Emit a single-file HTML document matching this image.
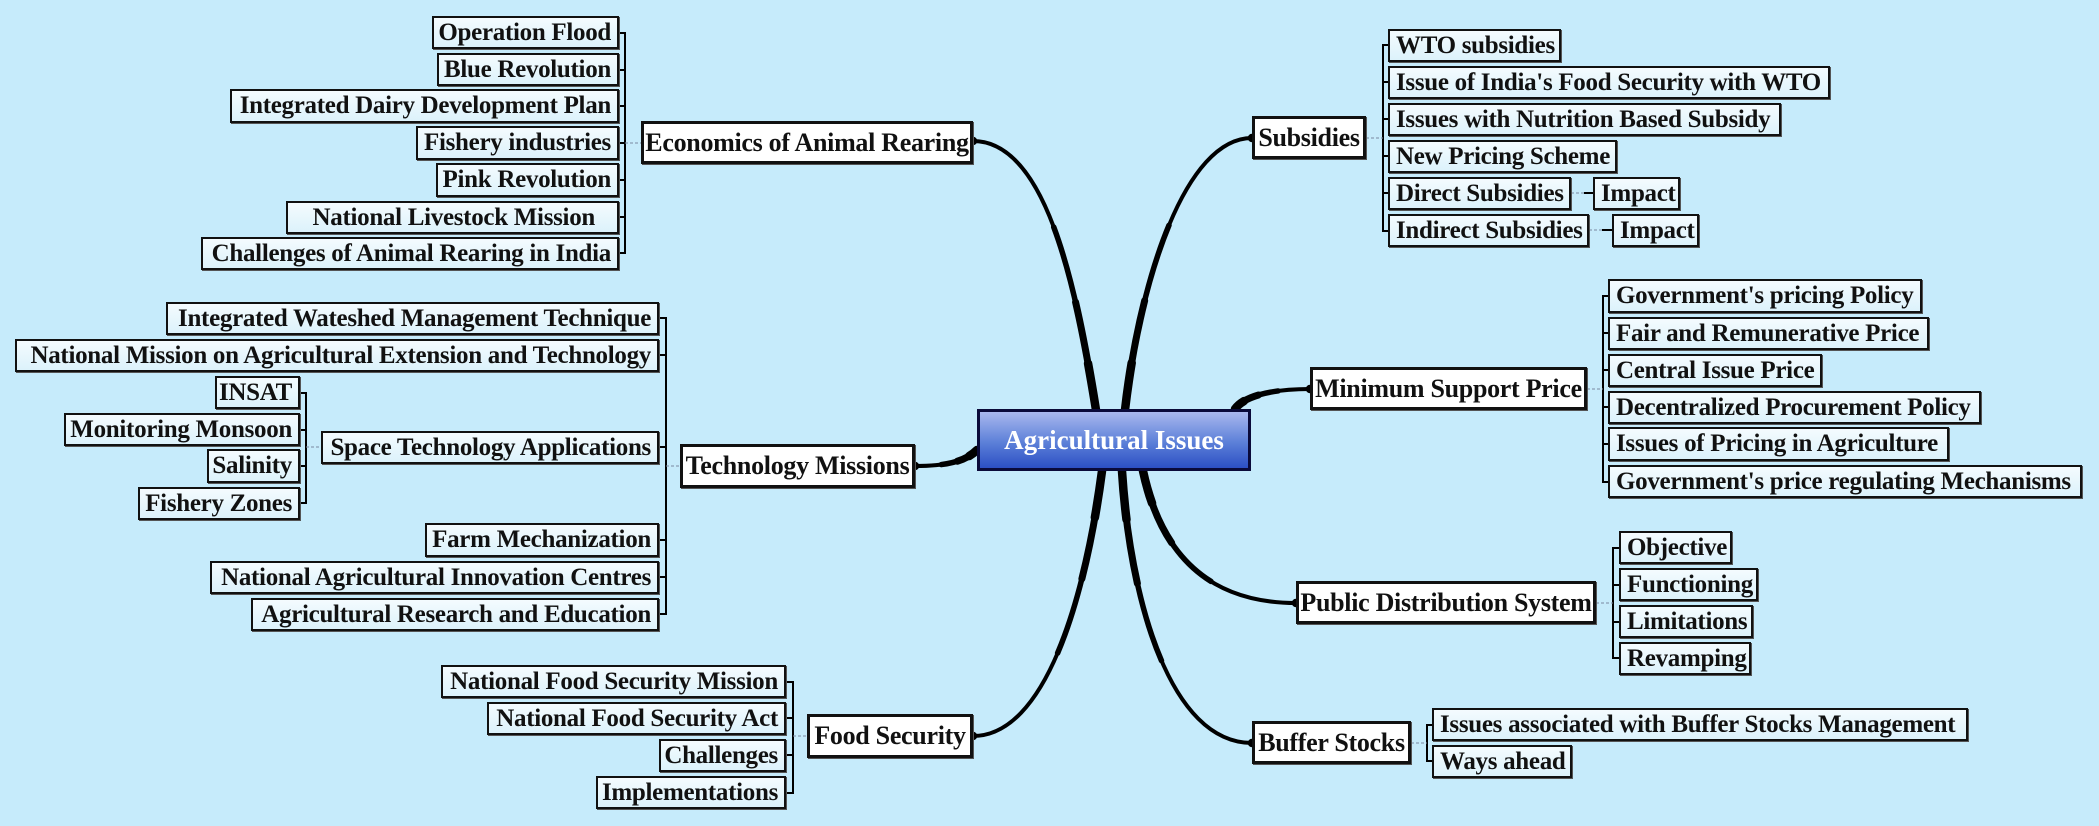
<!DOCTYPE html>
<html><head><meta charset="utf-8"><style>
body{margin:0;width:2099px;height:826px;background:#c6ebfb;position:relative;overflow:hidden;font-family:"Liberation Serif",serif;}
.b{position:absolute;box-sizing:border-box;border:2.5px solid #111;background:linear-gradient(#f4fbfe,#dcf2fb);font-weight:bold;font-size:25px;color:#111;display:flex;align-items:center;white-space:nowrap;box-shadow:1px 1px 0 #555;letter-spacing:-0.3px;}
.l{justify-content:flex-end;padding-right:6px;}
.r{justify-content:flex-start;padding-left:6px;}
.m{background:#fff;border:3px solid #111;font-size:26px;justify-content:center;}
.c{position:absolute;left:977px;top:409px;width:274px;height:62px;box-sizing:border-box;border:3px solid #0a0a3a;background:linear-gradient(#a9b8ee,#5b7fd8 55%,#2c4fc4);color:#fff;font-weight:bold;font-size:27px;display:flex;align-items:center;justify-content:center;}
svg{position:absolute;left:0;top:0}
</style></head><body>
<svg width="2099" height="826" fill="none" stroke="#000">
<defs>
<path id="p1" d="M973,141 C1045,141 1075,280 1096,410"/>
<path id="p2" d="M1252,138 C1185,138 1140,280 1125,410"/>
<path id="p3" d="M1310,389 C1275,389 1245,395 1235,409"/>
<path id="p4" d="M1296,603 C1205,603 1160,550 1143,471"/>
<path id="p5" d="M1252,743 C1170,743 1130,600 1122,471"/>
<path id="p6" d="M973,736 C1045,736 1085,600 1102,471"/>
<path id="p7" d="M915,466 C945,466 965,462 977,450"/>
</defs>
<g stroke-linecap="round">
<g stroke-width="4"><use href="#p1"/><use href="#p2"/><use href="#p3"/><use href="#p4"/><use href="#p5"/><use href="#p6"/><use href="#p7"/></g>
<g stroke-width="5.5" stroke-dasharray="0 40 60"><path pathLength="100" d="M973,141 C1045,141 1075,280 1096,410"/><path pathLength="100" d="M1252,138 C1185,138 1140,280 1125,410"/><path pathLength="100" d="M1310,389 C1275,389 1245,395 1235,409"/><path pathLength="100" d="M1296,603 C1205,603 1160,550 1143,471"/><path pathLength="100" d="M1252,743 C1170,743 1130,600 1122,471"/><path pathLength="100" d="M973,736 C1045,736 1085,600 1102,471"/><path pathLength="100" d="M915,466 C945,466 965,462 977,450"/></g>
<g stroke-width="7" stroke-dasharray="0 65 35"><path pathLength="100" d="M973,141 C1045,141 1075,280 1096,410"/><path pathLength="100" d="M1252,138 C1185,138 1140,280 1125,410"/><path pathLength="100" d="M1310,389 C1275,389 1245,395 1235,409"/><path pathLength="100" d="M1296,603 C1205,603 1160,550 1143,471"/><path pathLength="100" d="M1252,743 C1170,743 1130,600 1122,471"/><path pathLength="100" d="M973,736 C1045,736 1085,600 1102,471"/><path pathLength="100" d="M915,466 C945,466 965,462 977,450"/></g>
<g stroke-width="8.5" stroke-dasharray="0 85 15"><path pathLength="100" d="M973,141 C1045,141 1075,280 1096,410"/><path pathLength="100" d="M1252,138 C1185,138 1140,280 1125,410"/><path pathLength="100" d="M1310,389 C1275,389 1245,395 1235,409"/><path pathLength="100" d="M1296,603 C1205,603 1160,550 1143,471"/><path pathLength="100" d="M1252,743 C1170,743 1130,600 1122,471"/><path pathLength="100" d="M973,736 C1045,736 1085,600 1102,471"/><path pathLength="100" d="M915,466 C945,466 965,462 977,450"/></g>
</g>
<g stroke-width="2">
<path d="M619,33 H625 V253 H619"/><path d="M619,70H625M619,106H625M619,143H625M619,180H625M619,217H625"/>
<path d="M659,318 H666 V614 H659"/><path d="M659,355H666M659,447H666M659,540H666M659,577H666"/>
<path d="M300,393 H306 V503 H300"/><path d="M300,430H306M300,466H306"/>
<path d="M786,682 H793 V793 H786"/><path d="M786,718H793M786,755H793"/>
<path d="M1388,45 H1383 V231 H1388"/><path d="M1383,82H1388M1383,119H1388M1383,156H1388M1383,193H1388"/>
<path d="M1608,296 H1603 V482 H1608"/><path d="M1603,333H1608M1603,370H1608M1603,407H1608M1603,444H1608"/>
<path d="M1619,548 H1613 V658 H1619"/><path d="M1613,585H1619M1613,622H1619"/>
<path d="M1432,725 H1427 V761 H1432"/>
<path d="M1584,193H1593M1602,230H1612"/>
</g>
<g stroke-width="1" stroke="#7a8aa0" stroke-dasharray="3,2">
<path d="M625,143H641M666,466H680M306,447H321M793,736H807M1366,138H1383M1587,389H1603M1596,603H1613M1411,743H1427M1571,193H1584M1589,230H1602"/>
</g>
</svg>
<div class="c">Agricultural Issues</div>

<div class="b m" style="left:641px;top:121px;width:332px;height:43px">Economics of Animal Rearing</div>
<div class="b l" style="left:432px;top:16px;width:187px;height:33px">Operation Flood</div>
<div class="b l" style="left:437px;top:53px;width:182px;height:33px">Blue Revolution</div>
<div class="b l" style="left:230px;top:89px;width:389px;height:34px">Integrated Dairy Development Plan</div>
<div class="b l" style="left:416px;top:126px;width:203px;height:34px">Fishery industries</div>
<div class="b l" style="left:436px;top:163px;width:183px;height:34px">Pink Revolution</div>
<div class="b l" style="left:286px;top:201px;width:333px;height:33px;padding-right:22px">National Livestock Mission</div>
<div class="b l" style="left:201px;top:237px;width:418px;height:33px">Challenges of Animal Rearing in India</div>

<div class="b m" style="left:680px;top:444px;width:235px;height:44px">Technology Missions</div>
<div class="b l" style="left:166px;top:302px;width:493px;height:33px">Integrated Wateshed Management Technique</div>
<div class="b l" style="left:15px;top:339px;width:644px;height:33px">National Mission on Agricultural Extension and Technology</div>
<div class="b l" style="left:321px;top:431px;width:338px;height:33px">Space Technology Applications</div>
<div class="b l" style="left:215px;top:376px;width:85px;height:33px">INSAT</div>
<div class="b l" style="left:64px;top:413px;width:236px;height:33px">Monitoring Monsoon</div>
<div class="b l" style="left:207px;top:449px;width:93px;height:34px">Salinity</div>
<div class="b l" style="left:138px;top:487px;width:162px;height:33px">Fishery Zones</div>
<div class="b l" style="left:425px;top:523px;width:234px;height:34px">Farm Mechanization</div>
<div class="b l" style="left:210px;top:561px;width:449px;height:33px">National Agricultural Innovation Centres</div>
<div class="b l" style="left:251px;top:598px;width:408px;height:33px">Agricultural Research and Education</div>

<div class="b m" style="left:807px;top:714px;width:166px;height:44px">Food Security</div>
<div class="b l" style="left:441px;top:665px;width:345px;height:33px">National Food Security Mission</div>
<div class="b l" style="left:487px;top:702px;width:299px;height:33px">National Food Security Act</div>
<div class="b l" style="left:659px;top:739px;width:127px;height:33px">Challenges</div>
<div class="b l" style="left:596px;top:776px;width:190px;height:33px">Implementations</div>

<div class="b m" style="left:1252px;top:116px;width:114px;height:43px">Subsidies</div>
<div class="b r" style="left:1388px;top:29px;width:173px;height:33px">WTO subsidies</div>
<div class="b r" style="left:1388px;top:66px;width:442px;height:33px">Issue of India's Food Security with WTO</div>
<div class="b r" style="left:1388px;top:103px;width:393px;height:33px">Issues with Nutrition Based Subsidy</div>
<div class="b r" style="left:1388px;top:140px;width:229px;height:33px">New Pricing Scheme</div>
<div class="b r" style="left:1388px;top:177px;width:183px;height:33px">Direct Subsidies</div>
<div class="b r" style="left:1593px;top:177px;width:87px;height:33px">Impact</div>
<div class="b r" style="left:1388px;top:214px;width:201px;height:33px">Indirect Subsidies</div>
<div class="b r" style="left:1612px;top:214px;width:87px;height:33px">Impact</div>

<div class="b m" style="left:1310px;top:367px;width:277px;height:43px">Minimum Support Price</div>
<div class="b r" style="left:1608px;top:279px;width:314px;height:34px">Government's pricing Policy</div>
<div class="b r" style="left:1608px;top:317px;width:321px;height:33px">Fair and Remunerative Price</div>
<div class="b r" style="left:1608px;top:354px;width:214px;height:33px">Central Issue Price</div>
<div class="b r" style="left:1608px;top:391px;width:373px;height:33px">Decentralized Procurement Policy</div>
<div class="b r" style="left:1608px;top:427px;width:341px;height:34px">Issues of Pricing in Agriculture</div>
<div class="b r" style="left:1608px;top:465px;width:474px;height:33px">Government's price regulating Mechanisms</div>

<div class="b m" style="left:1296px;top:581px;width:300px;height:43px">Public Distribution System</div>
<div class="b r" style="left:1619px;top:531px;width:113px;height:33px">Objective</div>
<div class="b r" style="left:1619px;top:568px;width:139px;height:33px">Functioning</div>
<div class="b r" style="left:1619px;top:605px;width:134px;height:33px">Limitations</div>
<div class="b r" style="left:1619px;top:642px;width:132px;height:33px">Revamping</div>

<div class="b m" style="left:1252px;top:721px;width:159px;height:43px">Buffer Stocks</div>
<div class="b r" style="left:1432px;top:708px;width:536px;height:33px">Issues associated with Buffer Stocks Management</div>
<div class="b r" style="left:1432px;top:745px;width:140px;height:33px">Ways ahead</div>
</body></html>
